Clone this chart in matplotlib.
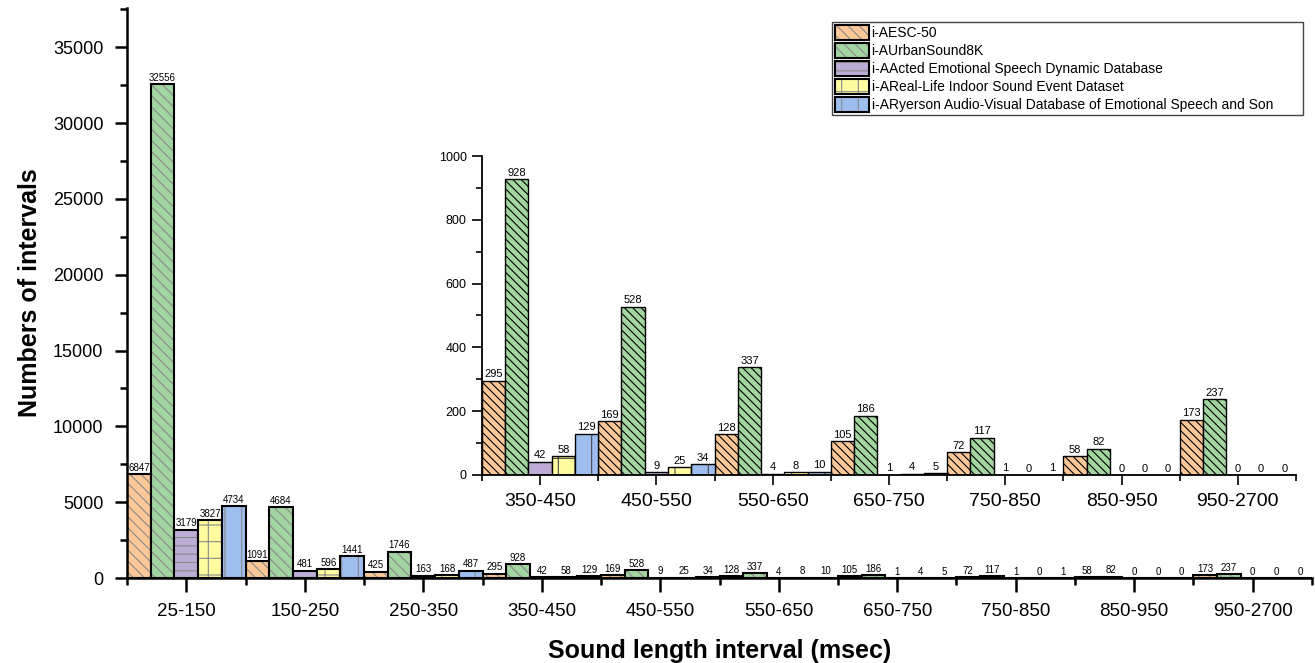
import numpy as np
import matplotlib.pyplot as plt
from matplotlib.legend_handler import HandlerTuple

plt.rcParams['font.family'] = ['Liberation Sans', 'DejaVu Sans']
plt.rcParams['hatch.linewidth'] = 0.8

# Sound length groups (msec)
groups = ['25-150', '150-250', '250-350', '350-450', '450-550',
          '550-650', '650-750', '750-850', '850-950', '950-2700']

# Number of intervals per dataset
esc50 = [6847, 1091, 425, 295, 169, 128, 105, 72, 58, 173]
urban8k = [32556, 4684, 1746, 928, 528, 337, 186, 117, 82, 237]
acted = [3179, 481, 163, 42, 9, 4, 1, 1, 0, 0]
reallife = [3827, 596, 168, 58, 25, 8, 4, 0, 0, 0]
ryerson = [4734, 1441, 487, 129, 34, 10, 5, 1, 0, 0]

names = ['i-AESC-50',
         'i-AUrbanSound8K',
         'i-AActed Emotional Speech Dynamic Database',
         'i-AReal-Life Indoor Sound Event Dataset',
         'i-ARyerson Audio-Visual Database of Emotional Speech and Son']

# Inset shows groups from 350-450 onward
inset_start = 3

colors = ['#FCC897', '#A2D5A0', '#BDADD6', '#FFFB9E', '#9EBEF0']
main_hatches = ['\\\\\\', '\\\\\\', '--', '+', '|']
inset_hatches = ['\\\\\\\\', '\\\\\\\\', '-', '+', '|']
main_hatch_colors = ['#8a8a8a'] * 5
inset_hatch_colors = ['black', 'black', '#444444', '#444444', '#444444']


def draw_bars(ax, data, hatches, hatch_colors, lw, label_size):
    x = np.arange(len(data[0]))
    width = 0.2
    handles = []
    for k, vals in enumerate(data):
        pos = x + (k - 2) * width
        # hatched fill first, then black outline on top
        fill = ax.bar(pos, vals, width, color=colors[k], edgecolor=hatch_colors[k],
                      hatch=hatches[k], linewidth=0)
        edge = ax.bar(pos, vals, width, fill=False, edgecolor='black', linewidth=lw)
        ax.bar_label(edge, fontsize=label_size, padding=1)
        handles.append((fill.patches[0], edge.patches[0]))
    return x, handles


fig = plt.figure(figsize=(13.15, 6.63), dpi=100)

# Main chart
ax = fig.add_axes([0.0966, 0.1282, 0.9011, 0.8598])
data = [esc50, urban8k, acted, reallife, ryerson]
x, handles = draw_bars(ax, data, main_hatches, main_hatch_colors, 1.5, 7)

ax.set_xlim(-0.5, len(groups) - 0.5)
ax.set_ylim(0, 37600)
ax.set_xticks(x)
ax.set_xticklabels(groups, fontsize=13.5)
ax.set_xticks(np.arange(-0.5, len(groups), 1), minor=True)
ax.set_yticks(np.arange(0, 35001, 5000))
ax.set_yticks(np.arange(2500, 37600, 5000), minor=True)
ax.tick_params(axis='x', which='major', length=10, width=1.8, pad=8)
ax.tick_params(axis='x', which='minor', length=5, width=1.8)
ax.tick_params(axis='y', which='major', length=9, width=1.8, labelsize=13, pad=8)
ax.tick_params(axis='y', which='minor', length=5, width=1.8)
for side in ['top', 'right']:
    ax.spines[side].set_visible(False)
for side in ['left', 'bottom']:
    ax.spines[side].set_linewidth(1.8)

ax.set_ylabel('Numbers of intervals', fontsize=18, fontweight='bold')
ax.yaxis.set_label_coords(-0.072, 0.5)
ax.set_xlabel('Sound length interval (msec)', fontsize=18, fontweight='bold')
ax.xaxis.set_label_coords(0.5, -0.107)

leg = ax.legend(handles, names, handler_map={tuple: HandlerTuple(ndivide=1)},
                loc='upper left', mode='expand',
                bbox_to_anchor=(832 / 1315, 1 - 118 / 663, 471 / 1315, 96 / 663),
                bbox_transform=fig.transFigure, fontsize=10, fancybox=False,
                edgecolor='#444444', framealpha=1, handlelength=2.45, handleheight=1.3,
                handletextpad=0.2, labelspacing=0.2, borderpad=0.2, borderaxespad=0)
leg.get_frame().set_linewidth(1.0)

# Inset zoom on the longer intervals
ax2 = fig.add_axes([0.3665, 0.2836, 0.619, 0.4811], facecolor='none')
inset_data = [d[inset_start:] for d in data]
x2, _ = draw_bars(ax2, inset_data, inset_hatches, inset_hatch_colors, 1.0, 8)

ax2.set_xlim(-0.5, len(x2) - 0.5)
ax2.set_ylim(0, 1000)
ax2.set_xticks(x2)
ax2.set_xticklabels(groups[inset_start:], fontsize=14)
ax2.set_xticks(np.arange(-0.5, len(x2), 1), minor=True)
ax2.set_yticks(np.arange(0, 1001, 200))
ax2.set_yticks(np.arange(100, 1000, 200), minor=True)
ax2.tick_params(axis='x', which='major', length=7, width=1.2, pad=6)
ax2.tick_params(axis='x', which='minor', length=4, width=1.2)
ax2.tick_params(axis='y', which='major', length=7, width=1.2, labelsize=9, pad=4)
ax2.tick_params(axis='y', which='minor', length=4, width=1.2)
for side in ['top', 'right']:
    ax2.spines[side].set_visible(False)
for side in ['left', 'bottom']:
    ax2.spines[side].set_linewidth(1.3)

fig.savefig('out.png', dpi=100)
